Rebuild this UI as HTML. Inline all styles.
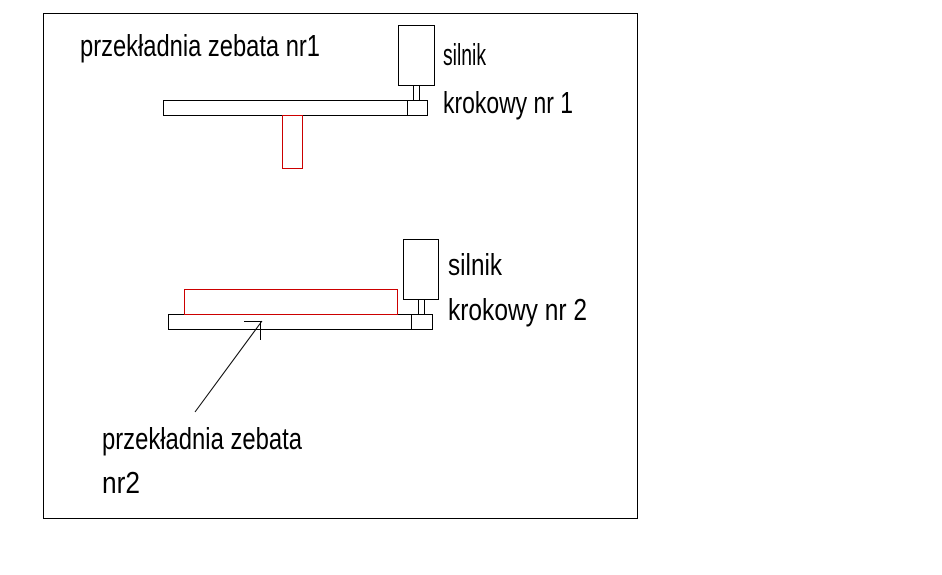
<!DOCTYPE html>
<html><head><meta charset="utf-8"><style>html,body{margin:0;padding:0;background:#fff}svg{display:block}</style></head>
<body>
<svg width="942" height="575" xmlns="http://www.w3.org/2000/svg" font-family="Liberation Sans Narrow, Liberation Sans, sans-serif" font-size="31" fill="none">
<rect x="43.5" y="13.5" width="594" height="505" stroke="#000"/>
<!-- top -->
<rect x="163.5" y="100.5" width="264" height="15" stroke="#000"/>
<line x1="407.5" y1="100" x2="407.5" y2="115" stroke="#000"/>
<rect x="398.5" y="25.5" width="36" height="60" stroke="#000"/>
<rect x="413.5" y="85.5" width="6" height="15" stroke="#000"/>
<rect x="282.5" y="115.5" width="20" height="53" stroke="#c00"/>
<!-- bottom -->
<rect x="168.5" y="314.5" width="264" height="15" stroke="#000"/>
<line x1="411.5" y1="314" x2="411.5" y2="329" stroke="#000"/>
<rect x="403.5" y="239.5" width="35" height="60" stroke="#000"/>
<rect x="418.5" y="299.5" width="6" height="15" stroke="#000"/>
<rect x="184.5" y="289.5" width="213" height="25" stroke="#c00"/>
<!-- arrow -->
<line x1="195" y1="412" x2="262" y2="321" stroke="#000"/>
<line x1="244" y1="321.5" x2="262" y2="321.5" stroke="#000"/>
<line x1="260.5" y1="321" x2="260.5" y2="340" stroke="#000"/>
<g fill="#000" stroke="none">
<text x="80" y="56" textLength="240" lengthAdjust="spacingAndGlyphs">przekładnia zebata nr1</text>
<text x="443" y="65" textLength="43" lengthAdjust="spacingAndGlyphs">silnik</text>
<text x="443" y="113" textLength="130" lengthAdjust="spacingAndGlyphs">krokowy nr 1</text>
<text x="448" y="275" textLength="54" lengthAdjust="spacingAndGlyphs">silnik</text>
<text x="448" y="320" textLength="139" lengthAdjust="spacingAndGlyphs">krokowy nr 2</text>
<text x="102" y="449" textLength="200" lengthAdjust="spacingAndGlyphs">przekładnia zebata</text>
<text x="102" y="493" textLength="38" lengthAdjust="spacingAndGlyphs">nr2</text>
</g>
</svg>
</body></html>
